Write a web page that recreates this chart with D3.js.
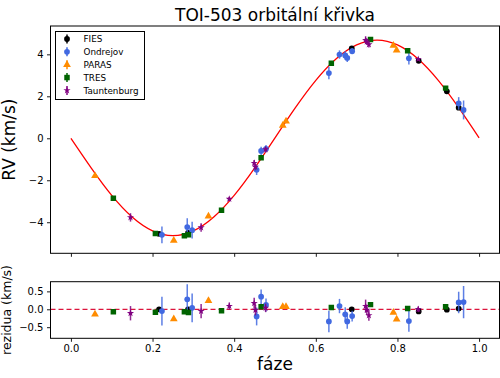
<!DOCTYPE html>
<html>
<head>
<meta charset="utf-8">
<script src="https://cdn.jsdelivr.net/npm/d3@7"></script>
<style>
  html, body { margin: 0; padding: 0; background: #fff; }
  svg { display: block; font-family: "DejaVu Sans", sans-serif; }
</style>
</head>
<body>
<svg id="chart" width="500" height="378"></svg>
<script>
// ---------------- DATA ----------------
const titleText = "TOI-503 orbitální křivka";
const xTicks = [0.0, 0.2, 0.4, 0.6, 0.8, 1.0];
const yTicksTop = [-4, -2, 0, 2, 4];
const yTicksRes = [-0.5, 0.0, 0.5];

// model curve
const modelPhase = [0.00,0.05,0.10,0.15,0.20,0.25,0.30,0.35,0.40,0.45,0.50,0.55,0.60,0.65,0.70,0.75,0.80,0.85,0.90,0.95,1.00];
const modelRV    = [0.00,-1.42,-2.72,-3.75,-4.41,-4.64,-4.41,-3.75,-2.72,-1.42,0.02,1.46,2.76,3.79,4.45,4.68,4.45,3.79,2.76,1.46,0.02];

const instrumentNames = ["FIES", "Ondrejov", "PARAS", "TRES", "Tauntenburg"];

const fiesPhase = [0.216, 0.287, 0.688, 0.852, 0.921, 0.950];
const fiesRV    = [-4.55, -4.51, 4.28, 3.69, 2.24, 1.46];
const fiesResid = [0.00, 0.00, 0.00, -0.06, -0.01, 0.02];
const fiesErr   = [0.03, 0.03, 0.03, 0.03, 0.03, 0.03];

const ondPhase = [0.223, 0.285, 0.297, 0.455, 0.466, 0.478, 0.632, 0.658, 0.672, 0.677, 0.689, 0.828, 0.950, 0.962];
const ondRV    = [-4.60, -4.23, -4.38, -1.50, -0.60, -0.50, 3.11, 3.99, 3.95, 3.83, 4.15, 3.81, 1.66, 1.35];
const ondResid = [-0.05, 0.28, 0.04, -0.20, 0.35, 0.12, -0.34, 0.09, -0.14, -0.34, -0.19, -0.33, 0.19, 0.20];
const ondErr   = [0.40, 0.42, 0.40, 0.25, 0.20, 0.18, 0.30, 0.20, 0.20, 0.20, 0.15, 0.30, 0.30, 0.45];

const parasPhase = [0.059, 0.252, 0.337, 0.519, 0.527, 0.790, 0.798];
const parasRV    = [-1.79, -4.87, -3.71, 0.61, 0.81, 4.42, 4.19];
const parasResid = [-0.14, -0.27, 0.24, 0.07, 0.07, -0.09, -0.28];
const parasErr   = [0.03, 0.03, 0.03, 0.03, 0.03, 0.03, 0.03];

const tresPhase = [0.104, 0.207, 0.278, 0.288, 0.369, 0.466, 0.638, 0.734, 0.825, 0.918];
const tresRV    = [-2.86, -4.54, -4.64, -4.60, -3.43, -0.93, 3.58, 4.71, 4.17, 2.39];
const tresResid = [-0.07, -0.08, -0.07, -0.09, -0.04, 0.07, 0.05, 0.13, 0.02, 0.07];
const tresErr   = [0.03, 0.03, 0.03, 0.03, 0.03, 0.03, 0.03, 0.03, 0.03, 0.03];

const tautPhase = [0.146, 0.319, 0.388, 0.449, 0.452, 0.477, 0.722, 0.725, 0.730, 0.851];
const tautRV    = [-3.77, -4.25, -2.89, -1.18, -1.37, -0.53, 4.68, 4.60, 4.47, 3.77];
const tautResid = [-0.11, -0.05, 0.09, 0.17, -0.02, 0.04, 0.09, -0.02, -0.17, 0.00];
const tautErr   = [0.20, 0.20, 0.10, 0.15, 0.15, 0.12, 0.18, 0.15, 0.15, 0.08];

// ---------------- SETUP ----------------
const series = [
  {name: instrumentNames[0], phase: fiesPhase,  rv: fiesRV,  resid: fiesResid,  err: fiesErr,  color: "#000000", sym: d3.symbolCircle,   size: 26},
  {name: instrumentNames[1], phase: ondPhase,   rv: ondRV,   resid: ondResid,   err: ondErr,   color: "#4169e1", sym: d3.symbolCircle,   size: 26},
  {name: instrumentNames[2], phase: parasPhase, rv: parasRV, resid: parasResid, err: parasErr, color: "#ff8c00", sym: d3.symbolTriangle, size: 26},
  {name: instrumentNames[3], phase: tresPhase,  rv: tresRV,  resid: tresResid,  err: tresErr,  color: "#006400", sym: d3.symbolSquare,   size: 30},
  {name: instrumentNames[4], phase: tautPhase,  rv: tautRV,  resid: tautResid,  err: tautErr,  color: "#800080", sym: d3.symbolStar,     size: 16}
];

const svg = d3.select("#chart");
const L = 50.5, R = 499.5;
const topT = 26, topB = 253.3, resT = 281.7, resB = 338.3;

const x = d3.scaleLinear().domain([-0.05, 1.05]).range([L, R]);
const yTop = d3.scaleLinear().domain([-5.48, 5.35]).range([topB, topT]);
const yRes = d3.scaleLinear().domain([-0.81, 0.77]).range([resB, resT]);

svg.append("defs").append("clipPath").attr("id", "clipTop")
  .append("rect").attr("x", L).attr("y", topT).attr("width", R - L).attr("height", topB - topT);
svg.select("defs").append("clipPath").attr("id", "clipRes")
  .append("rect").attr("x", L).attr("y", resT).attr("width", R - L).attr("height", resB - resT);

// title
svg.append("text").attr("x", (L + R) / 2).attr("y", 20.5).attr("text-anchor", "middle")
  .attr("font-size", 17).attr("fill", "#000").text(titleText);

// ---------------- TOP PANEL ----------------
const gTop = svg.append("g");
const plotTop = gTop.append("g").attr("clip-path", "url(#clipTop)");

const line = d3.line().x((d, i) => x(modelPhase[i])).y(d => yTop(d)).curve(d3.curveNatural);
plotTop.append("path").datum(modelRV).attr("d", line)
  .attr("fill", "none").attr("stroke", "red").attr("stroke-width", 1.3);

series.forEach(s => {
  const g = plotTop.append("g");
  const idx = d3.range(s.phase.length);
  g.selectAll("line.err").data(idx).join("line")
    .attr("x1", i => x(s.phase[i])).attr("x2", i => x(s.phase[i]))
    .attr("y1", i => yTop(s.rv[i] - s.err[i])).attr("y2", i => yTop(s.rv[i] + s.err[i]))
    .attr("stroke", s.color).attr("stroke-width", 1.5).attr("opacity", 0.85);
  g.selectAll("path.pt").data(idx).join("path")
    .attr("transform", i => `translate(${x(s.phase[i])},${yTop(s.rv[i])})`)
    .attr("d", d3.symbol().type(s.sym).size(s.size)())
    .attr("fill", s.color);
});

gTop.append("g").attr("transform", `translate(0,${topB})`)
  .call(d3.axisBottom(x).tickValues(xTicks).tickSize(3.5).tickFormat(""));
gTop.append("g").attr("transform", `translate(${L},0)`)
  .call(d3.axisLeft(yTop).tickValues(yTicksTop).tickSize(3.5).tickPadding(3.5)
    .tickFormat(d => d3.format("d")(d).replace("-", "\u2212")));

gTop.append("rect").attr("x", L).attr("y", topT).attr("width", R - L).attr("height", topB - topT)
  .attr("fill", "none").attr("stroke", "#000").attr("stroke-width", 1);

svg.append("text").attr("transform", `translate(15,${(topT + topB) / 2}) rotate(-90)`)
  .attr("text-anchor", "middle").attr("font-size", 17).attr("fill", "#000").text("RV (km/s)");

// legend
const leg = gTop.append("g");
leg.append("rect").attr("x", 55.5).attr("y", 31.5).attr("width", 89).attr("height", 68)
  .attr("fill", "#fff").attr("stroke", "#000").attr("stroke-width", 1);
series.forEach((s, i) => {
  const yy = 39 + i * 12.85;
  leg.append("line").attr("x1", 67).attr("x2", 67).attr("y1", yy - 4.5).attr("y2", yy + 4.5)
    .attr("stroke", s.color).attr("stroke-width", 1.5);
  leg.append("path").attr("transform", `translate(67,${yy})`)
    .attr("d", d3.symbol().type(s.sym).size(s.size)()).attr("fill", s.color);
  leg.append("text").attr("x", 83.5).attr("y", yy + 3.2).attr("font-size", 8.8).attr("fill", "#000").text(s.name);
});

// ---------------- RESIDUAL PANEL ----------------
const gRes = svg.append("g");
const plotRes = gRes.append("g").attr("clip-path", "url(#clipRes)");

plotRes.append("line").attr("x1", L).attr("x2", R).attr("y1", yRes(0)).attr("y2", yRes(0))
  .attr("stroke", "#dc143c").attr("stroke-width", 1.3).attr("stroke-dasharray", "5,3");

series.forEach(s => {
  const g = plotRes.append("g");
  const idx = d3.range(s.phase.length);
  g.selectAll("line.err").data(idx).join("line")
    .attr("x1", i => x(s.phase[i])).attr("x2", i => x(s.phase[i]))
    .attr("y1", i => yRes(s.resid[i] - s.err[i])).attr("y2", i => yRes(s.resid[i] + s.err[i]))
    .attr("stroke", s.color).attr("stroke-width", 1.5).attr("opacity", 0.85);
  g.selectAll("path.pt").data(idx).join("path")
    .attr("transform", i => `translate(${x(s.phase[i])},${yRes(s.resid[i])})`)
    .attr("d", d3.symbol().type(s.sym).size(s.size)())
    .attr("fill", s.color);
});

gRes.append("g").attr("transform", `translate(0,${resB})`)
  .call(d3.axisBottom(x).tickValues(xTicks).tickSize(3.5).tickPadding(3.5).tickFormat(d3.format(".1f")));
gRes.append("g").attr("transform", `translate(${L},0)`)
  .call(d3.axisLeft(yRes).tickValues(yTicksRes).tickSize(3.5).tickPadding(3.5)
    .tickFormat(d => d3.format(".1f")(d).replace("-", "\u2212")));

gRes.append("rect").attr("x", L).attr("y", resT).attr("width", R - L).attr("height", resB - resT)
  .attr("fill", "none").attr("stroke", "#000").attr("stroke-width", 1);

svg.append("text").attr("transform", `translate(11,${(resT + resB) / 2}) rotate(-90)`)
  .attr("text-anchor", "middle").attr("font-size", 12.5).attr("fill", "#000").text("rezidua (km/s)");

svg.append("text").attr("x", (L + R) / 2).attr("y", 370).attr("text-anchor", "middle")
  .attr("font-size", 17).attr("fill", "#000").text("fáze");

// axis styling
svg.selectAll(".domain").remove();
svg.selectAll(".tick line").attr("stroke", "#000").attr("stroke-width", 0.9);
svg.selectAll(".tick text").attr("font-size", 10).attr("fill", "#000").attr("font-family", "DejaVu Sans, sans-serif");
</script>
</body>
</html>
